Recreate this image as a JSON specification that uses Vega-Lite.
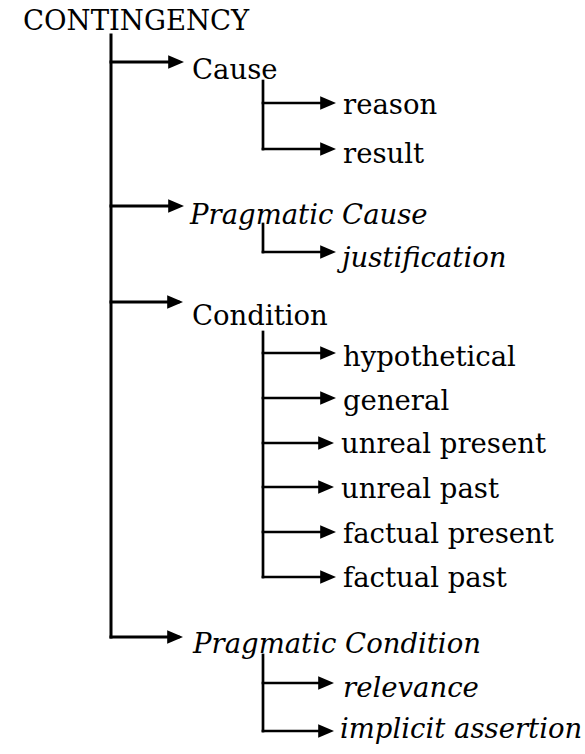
{
  "$schema": "https://vega.github.io/schema/vega-lite/v6.json",
  "width": 585,
  "height": 754,
  "padding": 0,
  "autosize": "none",
  "background": "white",
  "config": {"view": {"stroke": null}, "text": {"font": "DejaVu Serif"}},
  "datasets": {
    "lines": [
      {"x": 111, "y": 35, "x2": 111, "y2": 637, "level": "main"},
      {"x": 111, "y": 62, "x2": 178, "y2": 62, "level": "main"},
      {"x": 111, "y": 206, "x2": 178, "y2": 206, "level": "main"},
      {"x": 111, "y": 302, "x2": 178, "y2": 302, "level": "main"},
      {"x": 111, "y": 637, "x2": 178, "y2": 637, "level": "main"},
      {"x": 263, "y": 81, "x2": 263, "y2": 149, "level": "sub"},
      {"x": 263, "y": 103, "x2": 330, "y2": 103, "level": "sub"},
      {"x": 263, "y": 149, "x2": 330, "y2": 149, "level": "sub"},
      {"x": 263, "y": 224, "x2": 263, "y2": 252, "level": "sub"},
      {"x": 263, "y": 252, "x2": 330, "y2": 252, "level": "sub"},
      {"x": 263, "y": 332, "x2": 263, "y2": 577, "level": "sub"},
      {"x": 263, "y": 353, "x2": 330, "y2": 353, "level": "sub"},
      {"x": 263, "y": 398, "x2": 330, "y2": 398, "level": "sub"},
      {"x": 263, "y": 443, "x2": 328, "y2": 443, "level": "sub"},
      {"x": 263, "y": 487, "x2": 328, "y2": 487, "level": "sub"},
      {"x": 263, "y": 532, "x2": 330, "y2": 532, "level": "sub"},
      {"x": 263, "y": 577, "x2": 330, "y2": 577, "level": "sub"},
      {"x": 263, "y": 655, "x2": 263, "y2": 731, "level": "sub"},
      {"x": 263, "y": 683, "x2": 328, "y2": 683, "level": "sub"},
      {"x": 263, "y": 731, "x2": 328, "y2": 731, "level": "sub"}
    ],
    "heads": [
      {"x": 184, "y": 62}, {"x": 184, "y": 206}, {"x": 183, "y": 302}, {"x": 183, "y": 637},
      {"x": 336, "y": 103}, {"x": 336, "y": 149}, {"x": 336, "y": 252},
      {"x": 336, "y": 353}, {"x": 336, "y": 398}, {"x": 334, "y": 443}, {"x": 334, "y": 487},
      {"x": 336, "y": 532}, {"x": 336, "y": 577}, {"x": 334, "y": 683}, {"x": 334, "y": 731}
    ],
    "labels": [
      {"x": 23, "y": 30, "label": "CONTINGENCY", "pragmatic": false},
      {"x": 192, "y": 79, "label": "Cause", "pragmatic": false},
      {"x": 190, "y": 224, "label": "Pragmatic Cause", "pragmatic": true},
      {"x": 192, "y": 325, "label": "Condition", "pragmatic": false},
      {"x": 193, "y": 653, "label": "Pragmatic Condition", "pragmatic": true},
      {"x": 343, "y": 114, "label": "reason", "pragmatic": false},
      {"x": 343, "y": 163, "label": "result", "pragmatic": false},
      {"x": 342, "y": 267, "label": "justification", "pragmatic": true},
      {"x": 343, "y": 366, "label": "hypothetical", "pragmatic": false},
      {"x": 343, "y": 410, "label": "general", "pragmatic": false},
      {"x": 341, "y": 453, "label": "unreal present", "pragmatic": false},
      {"x": 341, "y": 498, "label": "unreal past", "pragmatic": false},
      {"x": 343, "y": 543, "label": "factual present", "pragmatic": false},
      {"x": 343, "y": 587, "label": "factual past", "pragmatic": false},
      {"x": 343, "y": 697, "label": "relevance", "pragmatic": true},
      {"x": 340, "y": 738, "label": "implicit assertion", "pragmatic": true}
    ]
  },
  "layer": [
    {
      "data": {"name": "lines"},
      "transform": [{"filter": "datum.level === 'main'"}],
      "mark": {"type": "rule", "color": "black", "strokeWidth": 3, "strokeCap": "square"},
      "encoding": {
        "x": {"field": "x", "type": "quantitative", "scale": {"domain": [0, 585], "nice": false, "zero": false}, "axis": null},
        "y": {"field": "y", "type": "quantitative", "scale": {"domain": [0, 754], "nice": false, "zero": false, "reverse": true}, "axis": null},
        "x2": {"field": "x2"},
        "y2": {"field": "y2"}
      }
    },
    {
      "data": {"name": "lines"},
      "transform": [{"filter": "datum.level === 'sub'"}],
      "mark": {"type": "rule", "color": "black", "strokeWidth": 2.7, "strokeCap": "square"},
      "encoding": {
        "x": {"field": "x", "type": "quantitative", "scale": {"domain": [0, 585], "nice": false, "zero": false}, "axis": null},
        "y": {"field": "y", "type": "quantitative", "scale": {"domain": [0, 754], "nice": false, "zero": false, "reverse": true}, "axis": null},
        "x2": {"field": "x2"},
        "y2": {"field": "y2"}
      }
    },
    {
      "data": {"name": "heads"},
      "mark": {"type": "point", "shape": "M0,0L-1,-0.42L-1,0.42Z", "filled": true, "color": "black", "opacity": 1, "size": 1000, "strokeWidth": 0},
      "encoding": {
        "x": {"field": "x", "type": "quantitative", "scale": {"domain": [0, 585], "nice": false, "zero": false}, "axis": null},
        "y": {"field": "y", "type": "quantitative", "scale": {"domain": [0, 754], "nice": false, "zero": false, "reverse": true}, "axis": null}
      }
    },
    {
      "data": {"name": "labels"},
      "transform": [{"filter": "!datum.pragmatic"}],
      "mark": {"type": "text", "align": "left", "baseline": "alphabetic", "font": "DejaVu Serif", "fontSize": 27.5, "color": "black"},
      "encoding": {
        "x": {"field": "x", "type": "quantitative", "scale": {"domain": [0, 585], "nice": false, "zero": false}, "axis": null},
        "y": {"field": "y", "type": "quantitative", "scale": {"domain": [0, 754], "nice": false, "zero": false, "reverse": true}, "axis": null},
        "text": {"field": "label"}
      }
    },
    {
      "data": {"name": "labels"},
      "transform": [{"filter": "datum.pragmatic"}],
      "mark": {"type": "text", "align": "left", "baseline": "alphabetic", "font": "DejaVu Serif", "fontStyle": "italic", "fontSize": 27.5, "color": "black"},
      "encoding": {
        "x": {"field": "x", "type": "quantitative", "scale": {"domain": [0, 585], "nice": false, "zero": false}, "axis": null},
        "y": {"field": "y", "type": "quantitative", "scale": {"domain": [0, 754], "nice": false, "zero": false, "reverse": true}, "axis": null},
        "text": {"field": "label"}
      }
    }
  ]
}
